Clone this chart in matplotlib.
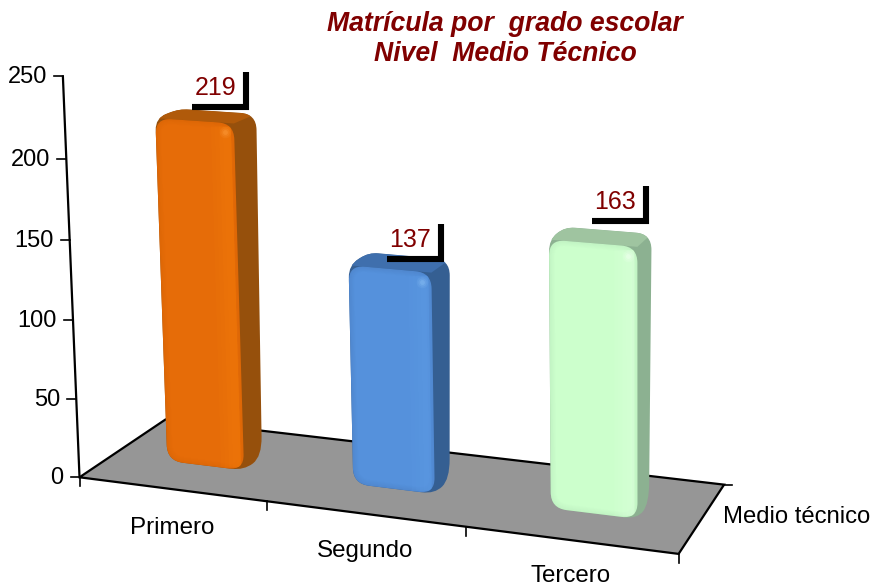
import numpy as np
import matplotlib
matplotlib.use('Agg')
import matplotlib.pyplot as plt
from matplotlib.path import Path
from matplotlib.patches import PathPatch, Polygon
from matplotlib.colors import to_rgb

# data
categories = ['Primero', 'Segundo', 'Tercero']
values = [219, 137, 163]
y_ticks = [0, 50, 100, 150, 200, 250]
series_name = 'Medio técnico'
title_lines = ['Matrícula por  grado escolar', 'Nivel  Medio Técnico']

# colours: face, rim, right strip, side, top, highlight
bar_colors = [
    ('#E66C08', '#DE6706', '#F07708', '#96500C', '#B05A0A', '#FFA040'),
    ('#5591DC', '#5088D0', '#5B98E2', '#355F92', '#3F6FAD', '#8CC0F5'),
    ('#CCFFCC', '#C2F4C4', '#D8FFD8', '#8CB191', '#9FC4A0', '#F4FFF4'),
]
label_nudge = [(-2, 2), (-1, 8), (2, -4)]
dark_red = '#800000'
font = 'Liberation Sans'

# camera fit: (along, depth, value) -> pixel
cam_3d = np.array([[0, 0, 0], [1, 0, 0], [1, 1, 0], [0, 1, 0], [0, 0, 250],
                   [.2418, .38, 219], [.578, .38, 137], [.9098, .38, 163],
                   [.1038, .7, 219], [.2418, .7, 219], [.578, .7, 137], [.9098, .7, 163]], float)
cam_px = np.array([[80, 477], [678, 555], [725, 483], [165, 420], [63, 75],
                   [243, 131], [430, 274], [640, 249],
                   [185, 117], [258, 117], [448, 259], [655, 236]], float)
cam_w = [4, 4, 4, 4, 4, 1, 1, 1, 1, 1, 1, 1]
rows, rhs = [], []
for (a, b, c), (x, y), w in zip(cam_3d, cam_px, cam_w):
    rows.append(w*np.array([a, b, c, 1, 0, 0, 0, 0, -x*a, -x*b, -x*c]))
    rows.append(w*np.array([0, 0, 0, 0, a, b, c, 1, -y*a, -y*b, -y*c]))
    rhs += [w*x, w*y]
cam = np.append(np.linalg.lstsq(np.array(rows), np.array(rhs), rcond=None)[0], 1).reshape(3, 4)

def project(u, d, v):
    p = cam @ np.array([u, d, v, 1.0])
    return p[:2] / p[2]

def rounded(points, radii):
    """Closed path through points with each corner rounded."""
    pts = [np.array(p, float) for p in points]
    n = len(pts)
    if np.isscalar(radii):
        radii = [radii]*n
    verts, codes = [], []
    for i in range(n):
        p, a, b = pts[i], pts[i-1], pts[(i+1) % n]
        ra = min(radii[i], np.linalg.norm(a-p)/2)
        rb = min(radii[i], np.linalg.norm(b-p)/2)
        p1 = p + (a-p)/np.linalg.norm(a-p)*ra
        p2 = p + (b-p)/np.linalg.norm(b-p)*rb
        verts.append(p1)
        codes.append(Path.MOVETO if i == 0 else Path.LINETO)
        verts += [p, p2]
        codes += [Path.CURVE3, Path.CURVE3]
    verts.append(verts[0])
    codes.append(Path.CLOSEPOLY)
    return Path(verts, codes)

def mix(c1, c2, t):
    return tuple(np.array(to_rgb(c1))*(1-t) + np.array(to_rgb(c2))*t)

def inset(quad, t):
    q = np.array(quad, float)
    c = q.mean(axis=0)
    return [p + np.sign(c-p)*t for p in q]

fig = plt.figure(figsize=(8.73, 5.87), dpi=100)
ax = fig.add_axes([0, 0, 1, 1])
ax.set_xlim(0, 873)
ax.set_ylim(587, 0)
ax.axis('off')

# floor
floor = [project(0, 0, 0), project(1, 0, 0), project(1, 1, 0), project(0, 1, 0)]
ax.add_patch(Polygon(floor, closed=True, fc='#969696', ec='black', lw=1.6, zorder=1))

# value axis
axis_line = np.array([project(0, 0, 0), project(0, 0, 250)])
ax.plot(axis_line[:, 0], axis_line[:, 1], color='black', lw=1.6, zorder=2)
for t in y_ticks:
    x, y = project(0, 0, t)
    ax.plot([x-9, x], [y, y], color='black', lw=1.2, zorder=2)
    ax.text(x-16, y+1, str(t), ha='right', va='center', fontsize=17, family=font, color='black')

# category ticks and labels
n = len(categories)
for i in range(n+1):
    x, y = project(i/n, 0, 0)
    ax.plot([x, x], [y, y+9], color='black', lw=1.2, zorder=2)
for i, name in enumerate(categories):
    x, y = project((i+.5)/n, 0, 0)
    ax.text(x+.5-i*.5, y+39-1.5*i, name, ha='center', va='center', fontsize=17.4, family=font, color='black')

x, y = project(1, 1, 0)
ax.plot([x, x+8], [y, y], color='black', lw=1.2, zorder=2)
x, y = project(1, .5, 0)
ax.text(x+94, y-1, series_name, ha='center', va='center', fontsize=17.2, family=font, color='black')

# bars
half = 0.07
d0, d1 = 0.38, 0.66
for i, val in enumerate(values):
    face, rim, strip, side, top, glow = bar_colors[i]
    uc = (i+.5)/n + 0.003
    ul, ur = uc-half, uc+half
    fbl, fbr = project(ul, d0, 0), project(ur, d0, 0)
    ftl, ftr = project(ul, d0, val), project(ur, d0, val)
    bbr = project(ur, d1-.05, 0)
    btl, btr = project(ul, d1, val), project(ur, d1, val)

    outline = rounded([ftl, btl, btr, bbr, fbr, fbl], [12, 10, 16, 20, 13, 16])
    ax.add_patch(PathPatch(outline, fc=side, ec='none', zorder=3))
    clip = PathPatch(outline, fc='none', ec='none', zorder=3)
    ax.add_patch(clip)
    top_face = Polygon([ftl, btl, btr, ftr], closed=True, fc=top, ec='none', zorder=3.1)
    ax.add_patch(top_face)
    top_face.set_clip_path(clip)

    # front face, rim fading in to the face colour
    quad = [fbl, fbr, ftr, ftl]
    layers = 7
    for k in range(layers):
        t = k/(layers-1)
        p = rounded(inset(quad, k*0.9), 16-k*0.8)
        ax.add_patch(PathPatch(p, fc=mix(rim, face, t), ec='none', zorder=3.2+k*0.01))
    front = PathPatch(rounded(quad, 16), fc='none', ec='none', zorder=3.2)
    ax.add_patch(front)

    # soft lighter strip down the right of the front face
    st = inset(quad, 3)
    for w, al in [(20, .2), (16, .2), (12, .25), (8, .25), (4, .2)]:
        q = [st[1]-[w, 0], st[1], st[2], st[2]-[w, 0]]
        g = Polygon(q, closed=True, fc=strip, ec='none', alpha=al, zorder=3.4)
        ax.add_patch(g)
        g.set_clip_path(front)

    # glow at the top right corner
    gx, gy = ftr[0]-9, ftr[1]+9
    for s, al in [(70, .15), (35, .2), (12, .35)]:
        ax.scatter([gx], [gy], s=s, color=glow, alpha=al, lw=0, zorder=3.5)

    # value label with its black bracket
    cx, cy = project(ur, d1, val)
    cx += label_nudge[i][0] - 8
    cy += label_nudge[i][1] - 9
    ax.plot([cx-54, cx+3], [cy, cy], color='black', lw=4.4, solid_capstyle='butt', zorder=4)
    ax.plot([cx, cx], [cy+3, cy-35], color='black', lw=4.4, solid_capstyle='butt', zorder=4)
    ax.text(cx-31, cy-19, str(val), ha='center', va='center', fontsize=18,
            family=font, color=dark_red, zorder=5)

# title
ax.text(505, 24, title_lines[0], ha='center', va='center', fontsize=19.2, family=font,
        weight='bold', style='italic', color=dark_red)
ax.text(505, 54, title_lines[1], ha='center', va='center', fontsize=19.2, family=font,
        weight='bold', style='italic', color=dark_red)

fig.savefig('out.png', dpi=100)
